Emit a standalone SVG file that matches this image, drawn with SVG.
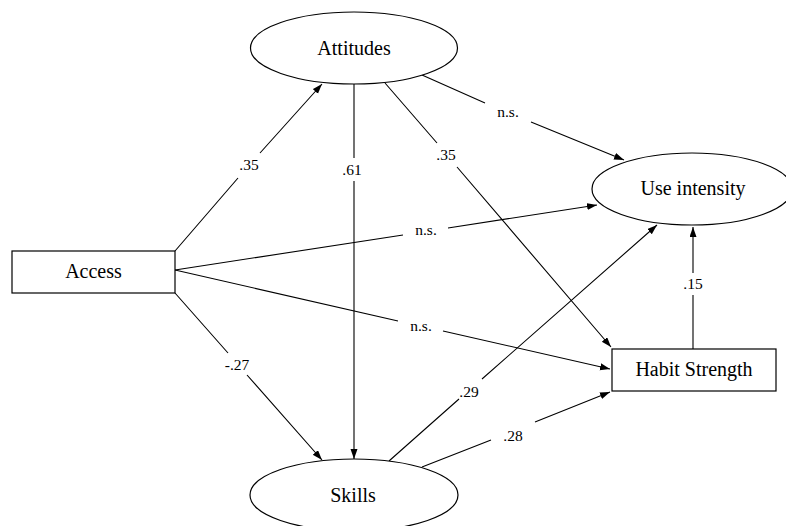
<svg xmlns="http://www.w3.org/2000/svg" width="786" height="526" viewBox="0 0 786 526">
<defs>
<marker id="arr" markerWidth="10" markerHeight="8" refX="10" refY="3.5" orient="auto" markerUnits="userSpaceOnUse">
<path d="M0,0 L10,3.5 L0,7 z" fill="#000"/>
</marker>
<style>
.node{fill:#fff;stroke:#000;stroke-width:1.2}
.nt{font-family:'Liberation Serif','DejaVu Serif','Times New Roman',serif;font-size:20px;text-anchor:middle;fill:#000}
.e{fill:none;stroke:#000;stroke-width:1.1;marker-end:url(#arr)}
.lt{font-family:'Liberation Serif','DejaVu Serif','Times New Roman',serif;font-size:15.5px;text-anchor:middle;fill:#000}
</style>
</defs>
<rect width="786" height="526" fill="#fff"/>
<g id="connectors">
<path class="e" d="M175,251 L238,178 M260,153 L322,84"/>
<path class="e" d="M175,293 L228,353 M247,375 L322,460"/>
<path class="e" d="M175,270 L403,235 M448,228 L597,205"/>
<path class="e" d="M175,270 L398,321 M443,331 L610,369"/>
<path class="e" d="M354,84 L354,158 M354,181 L354,459"/>
<path class="e" d="M422,75 L485,103 M531,122 L624,160"/>
<path class="e" d="M385,83 L437,143 M457,167 L611,347"/>
<path class="e" d="M389,461 L459,399 M482,379 L657,225"/>
<path class="e" d="M422,467 L491,440 M535,422 L610,392"/>
<path class="e" d="M693,349 L693,295 M693,273 L693,227"/>
<text class="lt" x="249" y="170">.35</text>
<text class="lt" x="237" y="370">-.27</text>
<text class="lt" x="426" y="235">n.s.</text>
<text class="lt" x="421" y="331">n.s.</text>
<text class="lt" x="352" y="175">.61</text>
<text class="lt" x="508" y="117">n.s.</text>
<text class="lt" x="446" y="160">.35</text>
<text class="lt" x="469" y="397">.29</text>
<text class="lt" x="513" y="441">.28</text>
<text class="lt" x="693" y="289">.15</text>
</g>
<g id="attitudes">
<ellipse class="node" cx="354" cy="48" rx="103.5" ry="36"/>
<text class="nt" x="354" y="54.5">Attitudes</text>
</g>
<g id="use-intensity">
<ellipse class="node" cx="692" cy="189" rx="100" ry="36"/>
<text class="nt" x="693" y="195">Use intensity</text>
</g>
<g id="access">
<rect class="node" x="12" y="251" width="163" height="42"/>
<text class="nt" x="93.5" y="277.5">Access</text>
</g>
<g id="habit-strength">
<rect class="node" x="612" y="349" width="164" height="42"/>
<text class="nt" x="694" y="376">Habit Strength</text>
</g>
<g id="skills">
<ellipse class="node" cx="354" cy="495" rx="104" ry="36"/>
<text class="nt" x="353" y="501.5">Skills</text>
</g>
</svg>
